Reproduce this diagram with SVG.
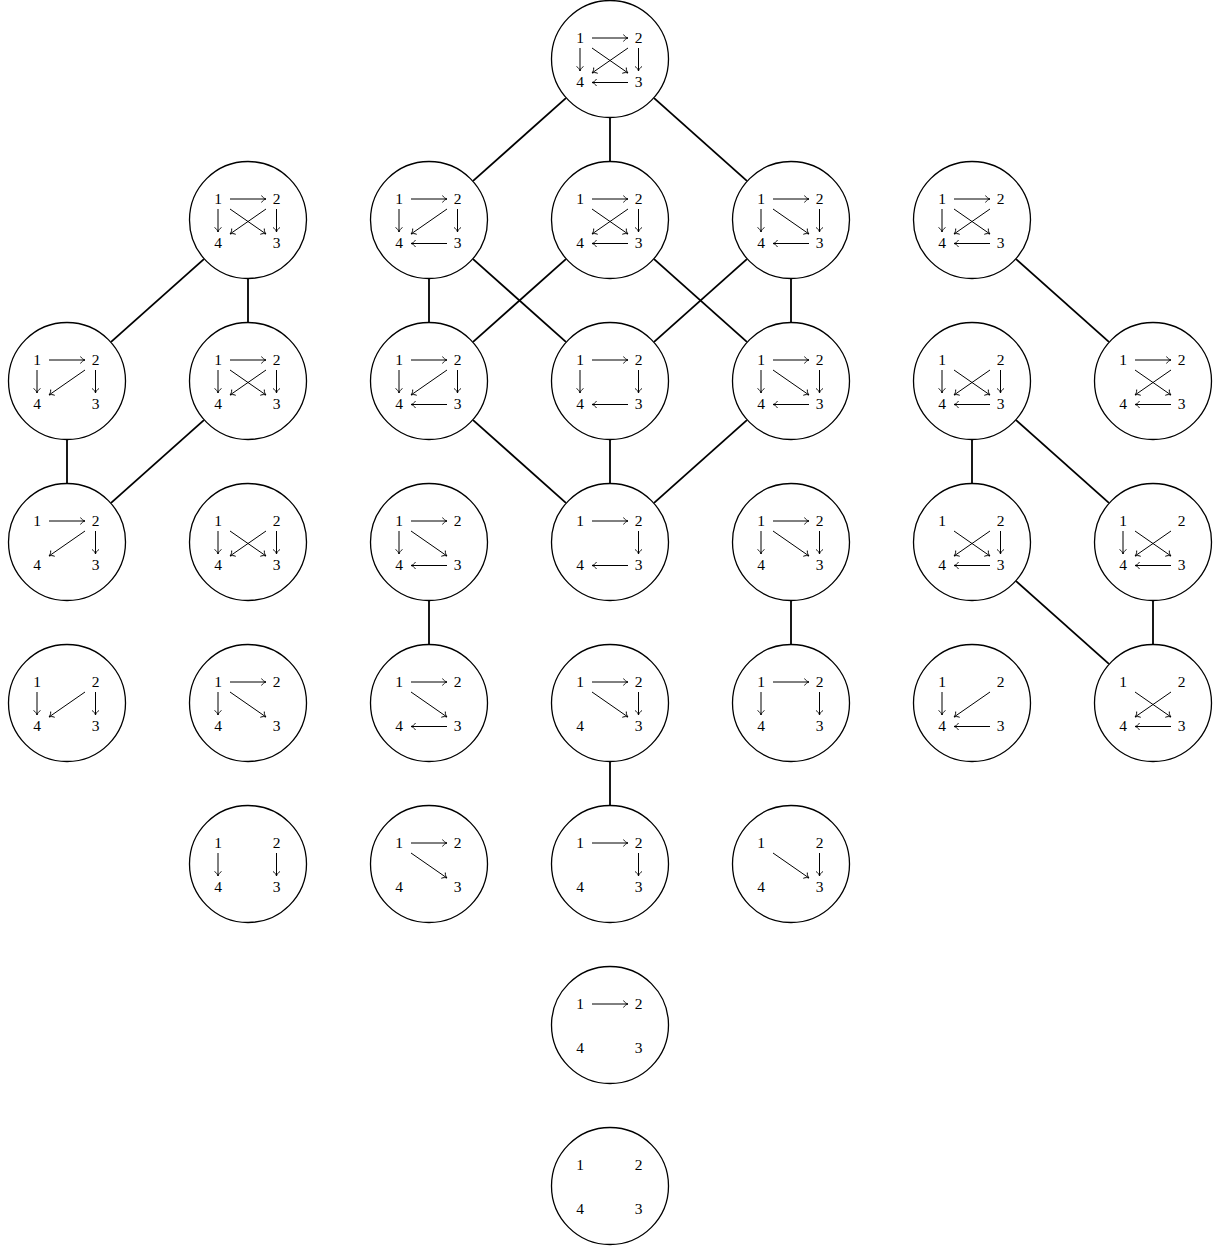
<svg xmlns="http://www.w3.org/2000/svg" width="1221" height="1249" viewBox="0 0 1221 1249">
<style>
.node circle{fill:#fff;stroke:#000;stroke-width:1.3}
.node text{font-family:"Liberation Serif","DejaVu Serif",serif;font-size:15.5px;text-anchor:middle;fill:#000}
.arr{stroke:#000;stroke-width:1;fill:none;marker-end:url(#h)}
.conn line{stroke:#000;stroke-width:1.8}
</style>
<defs>
<marker id="h" markerUnits="userSpaceOnUse" markerWidth="10" markerHeight="10" refX="0" refY="0" viewBox="-6 -5 7 10" orient="auto" overflow="visible">
<path d="M -4.5,-3.5 C -3.3,-1.4 -1.3,-0.3 0,0 C -1.3,0.3 -3.3,1.4 -4.5,3.5" fill="none" stroke="#000" stroke-width="0.9"/>
</marker>
<line id="a" class="arr" x1="-18" y1="-21" x2="18" y2="-21"/>
<line id="b" class="arr" x1="-30" y1="-11" x2="-30" y2="12"/>
<line id="c" class="arr" x1="28.5" y1="-11" x2="28.5" y2="12"/>
<line id="d" class="arr" x1="18" y1="23.5" x2="-18" y2="23.5"/>
<line id="e" class="arr" x1="-18" y1="-11" x2="18" y2="14"/>
<line id="f" class="arr" x1="18" y1="-11" x2="-18" y2="14"/>
</defs>
<rect width="1221" height="1249" fill="#fff"/>
<g id="connectors" class="conn">
<line x1="565.9" y1="98.2" x2="473.1" y2="180.8"/>
<line x1="610" y1="117.5" x2="610" y2="161.5"/>
<line x1="654.1" y1="98.2" x2="746.9" y2="180.8"/>
<line x1="203.9" y1="259.2" x2="111.1" y2="341.8"/>
<line x1="248" y1="278.5" x2="248" y2="322.5"/>
<line x1="203.9" y1="420.2" x2="111.1" y2="502.8"/>
<line x1="67" y1="439.5" x2="67" y2="483.5"/>
<line x1="429" y1="278.5" x2="429" y2="322.5"/>
<line x1="473.1" y1="259.2" x2="565.9" y2="341.8"/>
<line x1="565.9" y1="259.2" x2="473.1" y2="341.8"/>
<line x1="654.1" y1="259.2" x2="746.9" y2="341.8"/>
<line x1="746.9" y1="259.2" x2="654.1" y2="341.8"/>
<line x1="791" y1="278.5" x2="791" y2="322.5"/>
<line x1="473.1" y1="420.2" x2="565.9" y2="502.8"/>
<line x1="610" y1="439.5" x2="610" y2="483.5"/>
<line x1="746.9" y1="420.2" x2="654.1" y2="502.8"/>
<line x1="429" y1="600.5" x2="429" y2="644.5"/>
<line x1="791" y1="600.5" x2="791" y2="644.5"/>
<line x1="610" y1="761.5" x2="610" y2="805.5"/>
<line x1="1016.1" y1="259.2" x2="1108.9" y2="341.8"/>
<line x1="972" y1="439.5" x2="972" y2="483.5"/>
<line x1="1016.1" y1="420.2" x2="1108.9" y2="502.8"/>
<line x1="1016.1" y1="581.2" x2="1108.9" y2="663.8"/>
<line x1="1153" y1="600.5" x2="1153" y2="644.5"/>
</g>

<g id="n0_610" class="node" transform="translate(610,59)"><circle r="58.5"/><text x="-30" y="-16">1</text><text x="28.5" y="-16">2</text><text x="-30" y="28">4</text><text x="28.5" y="28">3</text><use href="#a"/><use href="#b"/><use href="#c"/><use href="#d"/><use href="#e"/><use href="#f"/></g>

<g id="n1_248" class="node" transform="translate(248,220)"><circle r="58.5"/><text x="-30" y="-16">1</text><text x="28.5" y="-16">2</text><text x="-30" y="28">4</text><text x="28.5" y="28">3</text><use href="#a"/><use href="#b"/><use href="#c"/><use href="#e"/><use href="#f"/></g>
<g id="n1_429" class="node" transform="translate(429,220)"><circle r="58.5"/><text x="-30" y="-16">1</text><text x="28.5" y="-16">2</text><text x="-30" y="28">4</text><text x="28.5" y="28">3</text><use href="#a"/><use href="#b"/><use href="#c"/><use href="#d"/><use href="#f"/></g>
<g id="n1_610" class="node" transform="translate(610,220)"><circle r="58.5"/><text x="-30" y="-16">1</text><text x="28.5" y="-16">2</text><text x="-30" y="28">4</text><text x="28.5" y="28">3</text><use href="#a"/><use href="#c"/><use href="#d"/><use href="#e"/><use href="#f"/></g>
<g id="n1_791" class="node" transform="translate(791,220)"><circle r="58.5"/><text x="-30" y="-16">1</text><text x="28.5" y="-16">2</text><text x="-30" y="28">4</text><text x="28.5" y="28">3</text><use href="#a"/><use href="#b"/><use href="#c"/><use href="#d"/><use href="#e"/></g>
<g id="n1_972" class="node" transform="translate(972,220)"><circle r="58.5"/><text x="-30" y="-16">1</text><text x="28.5" y="-16">2</text><text x="-30" y="28">4</text><text x="28.5" y="28">3</text><use href="#a"/><use href="#b"/><use href="#d"/><use href="#e"/><use href="#f"/></g>

<g id="n2_67" class="node" transform="translate(67,381)"><circle r="58.5"/><text x="-30" y="-16">1</text><text x="28.5" y="-16">2</text><text x="-30" y="28">4</text><text x="28.5" y="28">3</text><use href="#a"/><use href="#b"/><use href="#c"/><use href="#f"/></g>
<g id="n2_248" class="node" transform="translate(248,381)"><circle r="58.5"/><text x="-30" y="-16">1</text><text x="28.5" y="-16">2</text><text x="-30" y="28">4</text><text x="28.5" y="28">3</text><use href="#a"/><use href="#b"/><use href="#c"/><use href="#e"/><use href="#f"/></g>
<g id="n2_429" class="node" transform="translate(429,381)"><circle r="58.5"/><text x="-30" y="-16">1</text><text x="28.5" y="-16">2</text><text x="-30" y="28">4</text><text x="28.5" y="28">3</text><use href="#a"/><use href="#b"/><use href="#c"/><use href="#d"/><use href="#f"/></g>
<g id="n2_610" class="node" transform="translate(610,381)"><circle r="58.5"/><text x="-30" y="-16">1</text><text x="28.5" y="-16">2</text><text x="-30" y="28">4</text><text x="28.5" y="28">3</text><use href="#a"/><use href="#b"/><use href="#c"/><use href="#d"/></g>
<g id="n2_791" class="node" transform="translate(791,381)"><circle r="58.5"/><text x="-30" y="-16">1</text><text x="28.5" y="-16">2</text><text x="-30" y="28">4</text><text x="28.5" y="28">3</text><use href="#a"/><use href="#b"/><use href="#c"/><use href="#d"/><use href="#e"/></g>
<g id="n2_972" class="node" transform="translate(972,381)"><circle r="58.5"/><text x="-30" y="-16">1</text><text x="28.5" y="-16">2</text><text x="-30" y="28">4</text><text x="28.5" y="28">3</text><use href="#b"/><use href="#c"/><use href="#d"/><use href="#e"/><use href="#f"/></g>
<g id="n2_1153" class="node" transform="translate(1153,381)"><circle r="58.5"/><text x="-30" y="-16">1</text><text x="28.5" y="-16">2</text><text x="-30" y="28">4</text><text x="28.5" y="28">3</text><use href="#a"/><use href="#d"/><use href="#e"/><use href="#f"/></g>

<g id="n3_67" class="node" transform="translate(67,542)"><circle r="58.5"/><text x="-30" y="-16">1</text><text x="28.5" y="-16">2</text><text x="-30" y="28">4</text><text x="28.5" y="28">3</text><use href="#a"/><use href="#c"/><use href="#f"/></g>
<g id="n3_248" class="node" transform="translate(248,542)"><circle r="58.5"/><text x="-30" y="-16">1</text><text x="28.5" y="-16">2</text><text x="-30" y="28">4</text><text x="28.5" y="28">3</text><use href="#b"/><use href="#c"/><use href="#e"/><use href="#f"/></g>
<g id="n3_429" class="node" transform="translate(429,542)"><circle r="58.5"/><text x="-30" y="-16">1</text><text x="28.5" y="-16">2</text><text x="-30" y="28">4</text><text x="28.5" y="28">3</text><use href="#a"/><use href="#b"/><use href="#d"/><use href="#e"/></g>
<g id="n3_610" class="node" transform="translate(610,542)"><circle r="58.5"/><text x="-30" y="-16">1</text><text x="28.5" y="-16">2</text><text x="-30" y="28">4</text><text x="28.5" y="28">3</text><use href="#a"/><use href="#c"/><use href="#d"/></g>
<g id="n3_791" class="node" transform="translate(791,542)"><circle r="58.5"/><text x="-30" y="-16">1</text><text x="28.5" y="-16">2</text><text x="-30" y="28">4</text><text x="28.5" y="28">3</text><use href="#a"/><use href="#b"/><use href="#c"/><use href="#e"/></g>
<g id="n3_972" class="node" transform="translate(972,542)"><circle r="58.5"/><text x="-30" y="-16">1</text><text x="28.5" y="-16">2</text><text x="-30" y="28">4</text><text x="28.5" y="28">3</text><use href="#c"/><use href="#d"/><use href="#e"/><use href="#f"/></g>
<g id="n3_1153" class="node" transform="translate(1153,542)"><circle r="58.5"/><text x="-30" y="-16">1</text><text x="28.5" y="-16">2</text><text x="-30" y="28">4</text><text x="28.5" y="28">3</text><use href="#b"/><use href="#d"/><use href="#e"/><use href="#f"/></g>

<g id="n4_67" class="node" transform="translate(67,703)"><circle r="58.5"/><text x="-30" y="-16">1</text><text x="28.5" y="-16">2</text><text x="-30" y="28">4</text><text x="28.5" y="28">3</text><use href="#b"/><use href="#c"/><use href="#f"/></g>
<g id="n4_248" class="node" transform="translate(248,703)"><circle r="58.5"/><text x="-30" y="-16">1</text><text x="28.5" y="-16">2</text><text x="-30" y="28">4</text><text x="28.5" y="28">3</text><use href="#a"/><use href="#b"/><use href="#e"/></g>
<g id="n4_429" class="node" transform="translate(429,703)"><circle r="58.5"/><text x="-30" y="-16">1</text><text x="28.5" y="-16">2</text><text x="-30" y="28">4</text><text x="28.5" y="28">3</text><use href="#a"/><use href="#d"/><use href="#e"/></g>
<g id="n4_610" class="node" transform="translate(610,703)"><circle r="58.5"/><text x="-30" y="-16">1</text><text x="28.5" y="-16">2</text><text x="-30" y="28">4</text><text x="28.5" y="28">3</text><use href="#a"/><use href="#c"/><use href="#e"/></g>
<g id="n4_791" class="node" transform="translate(791,703)"><circle r="58.5"/><text x="-30" y="-16">1</text><text x="28.5" y="-16">2</text><text x="-30" y="28">4</text><text x="28.5" y="28">3</text><use href="#a"/><use href="#b"/><use href="#c"/></g>
<g id="n4_972" class="node" transform="translate(972,703)"><circle r="58.5"/><text x="-30" y="-16">1</text><text x="28.5" y="-16">2</text><text x="-30" y="28">4</text><text x="28.5" y="28">3</text><use href="#b"/><use href="#d"/><use href="#f"/></g>
<g id="n4_1153" class="node" transform="translate(1153,703)"><circle r="58.5"/><text x="-30" y="-16">1</text><text x="28.5" y="-16">2</text><text x="-30" y="28">4</text><text x="28.5" y="28">3</text><use href="#d"/><use href="#e"/><use href="#f"/></g>

<g id="n5_248" class="node" transform="translate(248,864)"><circle r="58.5"/><text x="-30" y="-16">1</text><text x="28.5" y="-16">2</text><text x="-30" y="28">4</text><text x="28.5" y="28">3</text><use href="#b"/><use href="#c"/></g>
<g id="n5_429" class="node" transform="translate(429,864)"><circle r="58.5"/><text x="-30" y="-16">1</text><text x="28.5" y="-16">2</text><text x="-30" y="28">4</text><text x="28.5" y="28">3</text><use href="#a"/><use href="#e"/></g>
<g id="n5_610" class="node" transform="translate(610,864)"><circle r="58.5"/><text x="-30" y="-16">1</text><text x="28.5" y="-16">2</text><text x="-30" y="28">4</text><text x="28.5" y="28">3</text><use href="#a"/><use href="#c"/></g>
<g id="n5_791" class="node" transform="translate(791,864)"><circle r="58.5"/><text x="-30" y="-16">1</text><text x="28.5" y="-16">2</text><text x="-30" y="28">4</text><text x="28.5" y="28">3</text><use href="#c"/><use href="#e"/></g>

<g id="n6_610" class="node" transform="translate(610,1025)"><circle r="58.5"/><text x="-30" y="-16">1</text><text x="28.5" y="-16">2</text><text x="-30" y="28">4</text><text x="28.5" y="28">3</text><use href="#a"/></g>

<g id="n7_610" class="node" transform="translate(610,1186)"><circle r="58.5"/><text x="-30" y="-16">1</text><text x="28.5" y="-16">2</text><text x="-30" y="28">4</text><text x="28.5" y="28">3</text></g>
</svg>
